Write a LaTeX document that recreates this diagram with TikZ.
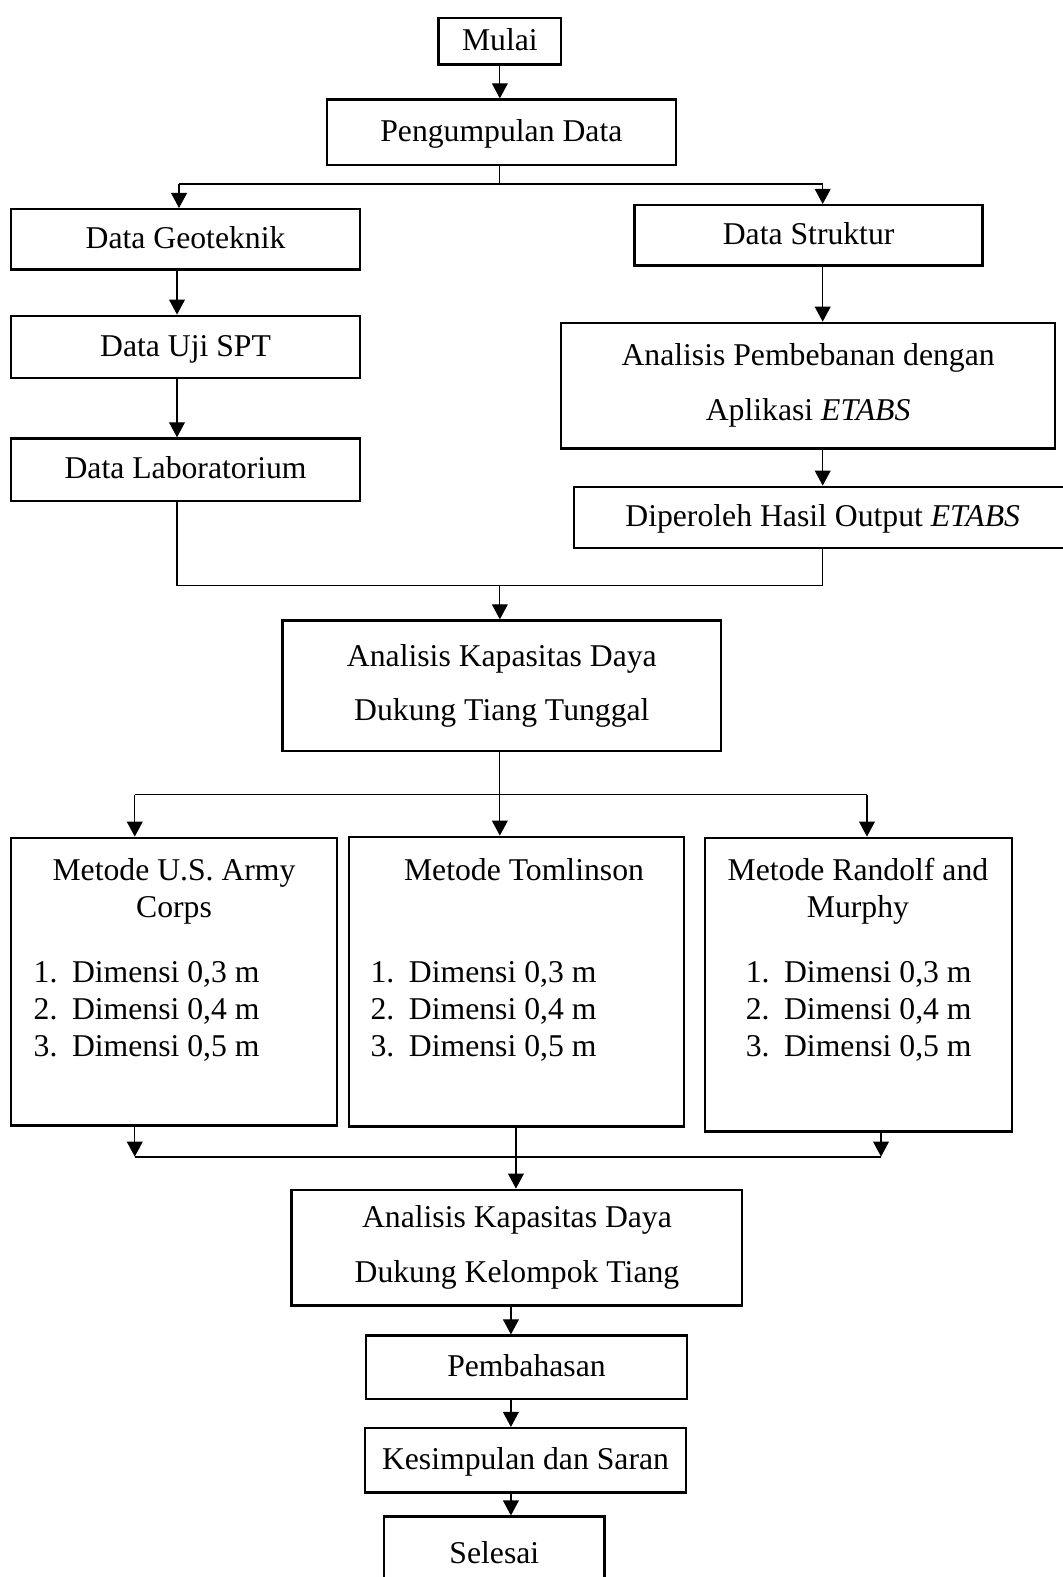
\documentclass[tikz,border=0pt]{standalone}
\usepackage{fontspec}
\setmainfont{Liberation Serif}
\usetikzlibrary{arrows.meta}
\tikzset{
  box/.style={draw, line width=0.9pt, inner sep=0pt, align=center},
  one/.style={text height=9.5pt, text depth=2.5pt},
  boxsize/.style 2 args={minimum width=#1*0.3808pt, minimum height=#2*0.3808pt},
  wide/.style={font=\fontsize{12}{20.8}\selectfont},
  txt/.style={inner sep=0pt, align=center},
  line/.style={line width=0.45pt},
  bus/.style={line width=0.8pt},
  arr/.style={line width=0.45pt, -{Triangle[length=5.7pt,width=6pt]}}
}
\newcommand{\dimlist}{\begin{tabular}{@{}l@{\hspace{5.5pt}}l@{}}
1. & Dimensi 0,3 m\\
2. & Dimensi 0,4 m\\
3. & Dimensi 0,5 m
\end{tabular}}

\begin{document}
\begin{tikzpicture}[x=0.3808pt, y=-0.3808pt, font=\fontsize{12}{14}\selectfont]
  \useasboundingbox (0,0) rectangle (1056,1568);

  % top
  \node[box, one, boxsize={122}{46}] (mulai) at (497,41) {Mulai};
  \node[box, one, boxsize={347}{65}] (kumpul) at (498.5,131.5) {Pengumpulan Data};

  % left column
  \node[box, one, boxsize={347}{60}] (geo) at (184.5,238) {Data Geoteknik};
  \node[box, one, boxsize={347}{62}] (spt) at (184.5,345) {Data Uji SPT};
  \node[box, one, boxsize={347}{62}] (lab) at (184.5,467) {Data Laboratorium};

  % right column
  \node[box, one, boxsize={346}{60}] (struk) at (804,234) {Data Struktur};
  \node[box, wide, boxsize={491}{125}] (beban) at (803.5,383.5)
    {Analisis Pembebanan dengan\\Aplikasi \textit{ETABS}};
  \node[box, one, boxsize={494}{61}] (output) at (818,514.5)
    {Diperoleh Hasil Output \textit{ETABS}};

  \node[box, wide, boxsize={436}{130}] (tunggal) at (499,682)
    {Analisis Kapasitas Daya\\Dukung Tiang Tunggal};

  % methods
  \node[box, boxsize={324}{286}] (army) at (173,976) {};
  \node[box, boxsize={333}{288}] (tomlin) at (513.5,976) {};
  \node[box, boxsize={305}{292}] (randolf) at (853.5,979) {};
  \node[txt, anchor=north] (armyt) at (173,853) {Metode U.S. Army\\Corps};
  \node[txt, anchor=north west] (armyl) at (33,951) {\dimlist};
  \node[txt, anchor=north] (tomlint) at (521,853) {Metode Tomlinson};
  \node[txt, anchor=north west] (tomlinl) at (368,951) {\dimlist};
  \node[txt, anchor=north] (randolft) at (853,853) {Metode Randolf and\\Murphy};
  \node[txt, anchor=north west] (randolfl) at (741,951) {\dimlist};

  % bottom
  \node[box, wide, boxsize={448}{115}] (kelompok) at (514,1240.5)
    {Analisis Kapasitas Daya\\Dukung Kelompok Tiang};
  \node[box, one, boxsize={319}{63}] (bahas) at (523.5,1359.5) {Pembahasan};
  \node[box, one, boxsize={319}{64}] (simpul) at (522.5,1452) {Kesimpulan dan Saran};
  \node[box, one, boxsize={219}{74}] (selesai) at (491.5,1545) {Selesai};

  % helper points
  \coordinate (lx) at (176,0);
  \coordinate (rx) at (818,0);
  \coordinate (b1) at (178,183);
  \coordinate (b2) at (818,183);
  \coordinate (j1) at (176,582);
  \coordinate (j2) at (818,582);
  \coordinate (j0) at (497,582);
  \coordinate (m1) at (134,790);
  \coordinate (m0) at (497,790);
  \coordinate (m2) at (862,790);
  \coordinate (k1) at (134,1150);
  \coordinate (k2) at (876,1150);
  \coordinate (mx) at (513,0);
  \coordinate (cx) at (508,0);

  % connectors
  \draw[arr] (mulai.south) -- (mulai.south |- kumpul.north);
  \draw[line] (kumpul.south -| m0) -- (m0 |- b1);
  \draw[bus] (b1) -- (b2);
  \draw[arr] (b1) -- (b1 |- geo.north);
  \draw[arr] (b2) -- (b2 |- struk.north);
  \draw[arr] (geo.south -| lx) -- (spt.north -| lx);
  \draw[arr] (spt.south -| lx) -- (lab.north -| lx);
  \draw[arr] (struk.south -| rx) -- (beban.north -| rx);
  \draw[arr] (beban.south -| rx) -- (output.north -| rx);
  \draw[line] (lab.south -| lx) -- (j1) -- (j2) -- (output.south -| rx);
  \draw[arr] (j0) -- (j0 |- tunggal.north);
  \draw[line] (m1) -- (m2);
  \draw[arr] (tunggal.south -| m0) -- (m0 |- tomlin.north);
  \draw[arr] (m1) -- (m1 |- army.north);
  \draw[arr] (m2) -- (m2 |- randolf.north);
  \draw[arr] (army.south -| k1) -- (k1);
  \draw[arr] (randolf.south -| k2) -- (k2);
  \draw[bus] (k1) -- (k2);
  \draw[arr] (tomlin.south -| mx) -- (kelompok.north -| mx);
  \draw[arr] (kelompok.south -| cx) -- (bahas.north -| cx);
  \draw[arr] (bahas.south -| cx) -- (simpul.north -| cx);
  \draw[arr] (simpul.south -| cx) -- (selesai.north -| cx);
\end{tikzpicture}
\end{document}
